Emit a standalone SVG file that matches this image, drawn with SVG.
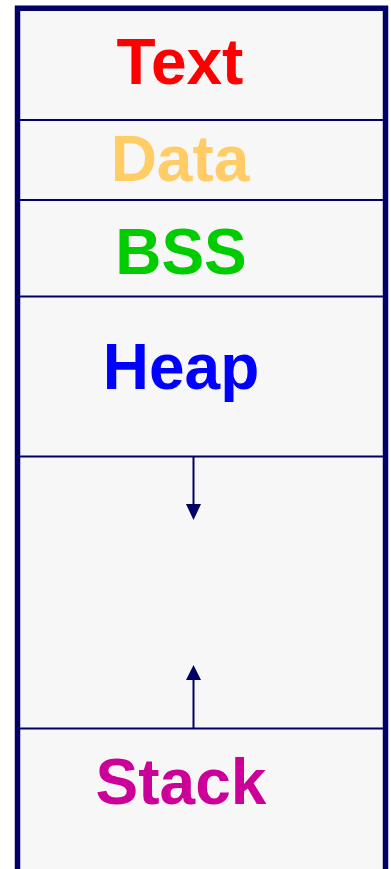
<svg xmlns="http://www.w3.org/2000/svg" width="391" height="869" viewBox="0 0 391 869">
  <style>
    .lbl { font-family: "Liberation Sans", Arial, sans-serif; font-weight: bold; font-size: 64px; text-anchor: middle; }
    .div { stroke: #000066; stroke-width: 2; fill: none; }
    .conn { stroke: #000066; stroke-width: 2; fill: none; }
    .head { fill: #000066; stroke: none; }
  </style>
  <rect x="0" y="0" width="391" height="869" fill="#ffffff"/>
  <g id="memory">
    <rect x="17.5" y="8.25" width="368" height="900" fill="#f7f7f7" stroke="#000066" stroke-width="5.5"/>
  </g>
  <g id="text-segment">
    <text class="lbl" x="180" y="84" fill="#ff0000">Text</text>
  </g>
  <g id="data-segment">
    <line class="div" x1="20" y1="120" x2="383" y2="120"/>
    <text class="lbl" x="180" y="181" fill="#ffcc66">Data</text>
  </g>
  <g id="bss-segment">
    <line class="div" x1="20" y1="200" x2="383" y2="200"/>
    <text class="lbl" x="181" y="274" fill="#00cc00">BSS</text>
  </g>
  <g id="heap-segment">
    <line class="div" x1="20" y1="296.5" x2="383" y2="296.5"/>
    <text class="lbl" x="181" y="389" fill="#0000ff">Heap</text>
  </g>
  <g id="free-space">
    <line class="div" x1="20" y1="456.5" x2="383" y2="456.5"/>
  </g>
  <g id="stack-segment">
    <line class="div" x1="20" y1="728.5" x2="383" y2="728.5"/>
    <text class="lbl" x="181" y="804" fill="#cc0099">Stack</text>
  </g>
  <g id="connectors">
    <line class="conn" x1="193.5" y1="456.5" x2="193.5" y2="505"/>
    <polygon class="head" points="186,504 201,504 193.5,520"/>
    <line class="conn" x1="193.5" y1="679" x2="193.5" y2="728.5"/>
    <polygon class="head" points="186,680 201,680 193.5,665"/>
  </g>
</svg>
